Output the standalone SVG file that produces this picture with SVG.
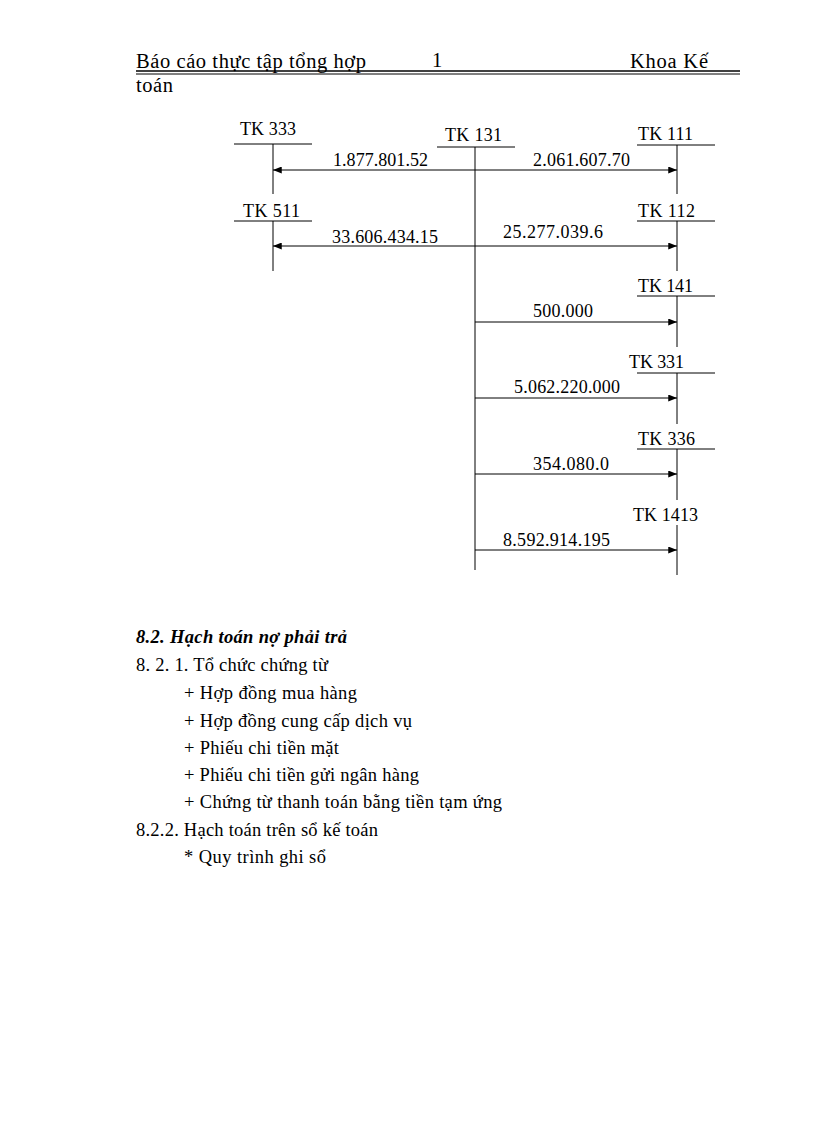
<svg xmlns="http://www.w3.org/2000/svg" width="816" height="1123" viewBox="0 0 816 1123">
<defs>
<marker id="ah" viewBox="0 0 10 8" refX="10" refY="4" markerWidth="9" markerHeight="7" markerUnits="userSpaceOnUse" orient="auto-start-reverse"><path d="M0,0 L10,4 L0,8 z" fill="#000"/></marker>
</defs>
<style>
text{font-family:"Liberation Serif","Times New Roman",serif;fill:#000}
.h{font-size:20.5px}
.t{font-size:18px}
.b{font-size:18.5px}
.bi{font-size:18.5px;font-weight:bold;font-style:italic}
.ln{stroke:#000;stroke-width:1;fill:none}
.ar{stroke:#000;stroke-width:1;fill:none;marker-end:url(#ah)}
</style>
<rect width="816" height="1123" fill="#fff"/>
<g id="header">
<text class="h" x="136" y="68" textLength="230">Báo cáo thực tập tổng hợp</text>
<text class="h" x="432" y="67">1</text>
<text class="h" x="630" y="68" textLength="78">Khoa Kế</text>
<line x1="136" y1="71" x2="740" y2="71" stroke="#000" stroke-width="1.5"/>
<line x1="136" y1="74" x2="740" y2="74" stroke="#000" stroke-width="1"/>
<text class="h" x="136" y="92" textLength="37">toán</text>
</g>
<g id="tk333"><text class="t" x="240" y="135" textLength="56">TK 333</text><line class="ln" x1="234" y1="144" x2="312" y2="144"/><line class="ln" x1="273" y1="144" x2="273" y2="194"/></g>
<g id="tk131"><text class="t" x="445" y="141" textLength="57">TK 131</text><line class="ln" x1="437" y1="147" x2="515" y2="147"/><line class="ln" x1="475" y1="147" x2="475" y2="570"/></g>
<g id="tk111"><text class="t" x="638" y="140" textLength="55">TK 111</text><line class="ln" x1="637" y1="145" x2="715" y2="145"/><line class="ln" x1="677" y1="145" x2="677" y2="194"/></g>
<g id="tk511"><text class="t" x="243" y="217" textLength="57">TK 511</text><line class="ln" x1="234" y1="221" x2="312" y2="221"/><line class="ln" x1="273" y1="221" x2="273" y2="271"/></g>
<g id="tk112"><text class="t" x="638" y="217" textLength="57">TK 112</text><line class="ln" x1="637" y1="221" x2="715" y2="221"/><line class="ln" x1="677" y1="221" x2="677" y2="271"/></g>
<g id="tk141"><text class="t" x="638" y="292" textLength="55">TK 141</text><line class="ln" x1="637" y1="296" x2="715" y2="296"/><line class="ln" x1="677" y1="296" x2="677" y2="347"/></g>
<g id="tk331"><text class="t" x="629" y="368" textLength="55">TK 331</text><line class="ln" x1="637" y1="373" x2="715" y2="373"/><line class="ln" x1="677" y1="373" x2="677" y2="424"/></g>
<g id="tk336"><text class="t" x="638" y="445" textLength="57">TK 336</text><line class="ln" x1="637" y1="449" x2="715" y2="449"/><line class="ln" x1="677" y1="449" x2="677" y2="500"/></g>
<g id="tk1413"><text class="t" x="633" y="521" textLength="65">TK 1413</text><line class="ln" x1="677" y1="525" x2="677" y2="575"/></g>
<g id="connectors">
<line class="ar" x1="475" y1="170" x2="273" y2="170"/>
<line class="ar" x1="475" y1="170" x2="677" y2="170"/>
<line class="ar" x1="475" y1="246" x2="273" y2="246"/>
<line class="ar" x1="475" y1="246" x2="677" y2="246"/>
<line class="ar" x1="475" y1="322" x2="677" y2="322"/>
<line class="ar" x1="475" y1="398" x2="677" y2="398"/>
<line class="ar" x1="475" y1="474" x2="677" y2="474"/>
<line class="ar" x1="475" y1="550" x2="677" y2="550"/>
<text class="t" x="333" y="166" textLength="95">1.877.801.52</text>
<text class="t" x="533" y="166" textLength="97">2.061.607.70</text>
<text class="t" x="332" y="243" textLength="106">33.606.434.15</text>
<text class="t" x="503" y="238" textLength="100">25.277.039.6</text>
<text class="t" x="533" y="317" textLength="60">500.000</text>
<text class="t" x="514" y="393" textLength="106">5.062.220.000</text>
<text class="t" x="533" y="470" textLength="76">354.080.0</text>
<text class="t" x="503" y="546" textLength="107">8.592.914.195</text>
</g>
<g id="body">
<text class="bi" x="136" y="643" textLength="211">8.2. Hạch toán nợ phải trả</text>
<text class="b" x="136" y="671" textLength="192">8. 2. 1. Tổ chức chứng từ</text>
<text class="b" x="184" y="699" textLength="173">+ Hợp đồng mua hàng</text>
<text class="b" x="184" y="727" textLength="228">+ Hợp đồng cung cấp dịch vụ</text>
<text class="b" x="184" y="754" textLength="155">+ Phiếu  chi tiền  mặt</text>
<text class="b" x="184" y="781" textLength="235">+ Phiếu  chi tiền  gửi ngân hàng</text>
<text class="b" x="184" y="808" textLength="318">+ Chứng từ thanh toán bằng tiền tạm ứng</text>
<text class="b" x="136" y="836" textLength="242">8.2.2. Hạch toán trên sổ kế toán</text>
<text class="b" x="184" y="863" textLength="142">* Quy trình ghi  sổ</text>
</g>
</svg>
